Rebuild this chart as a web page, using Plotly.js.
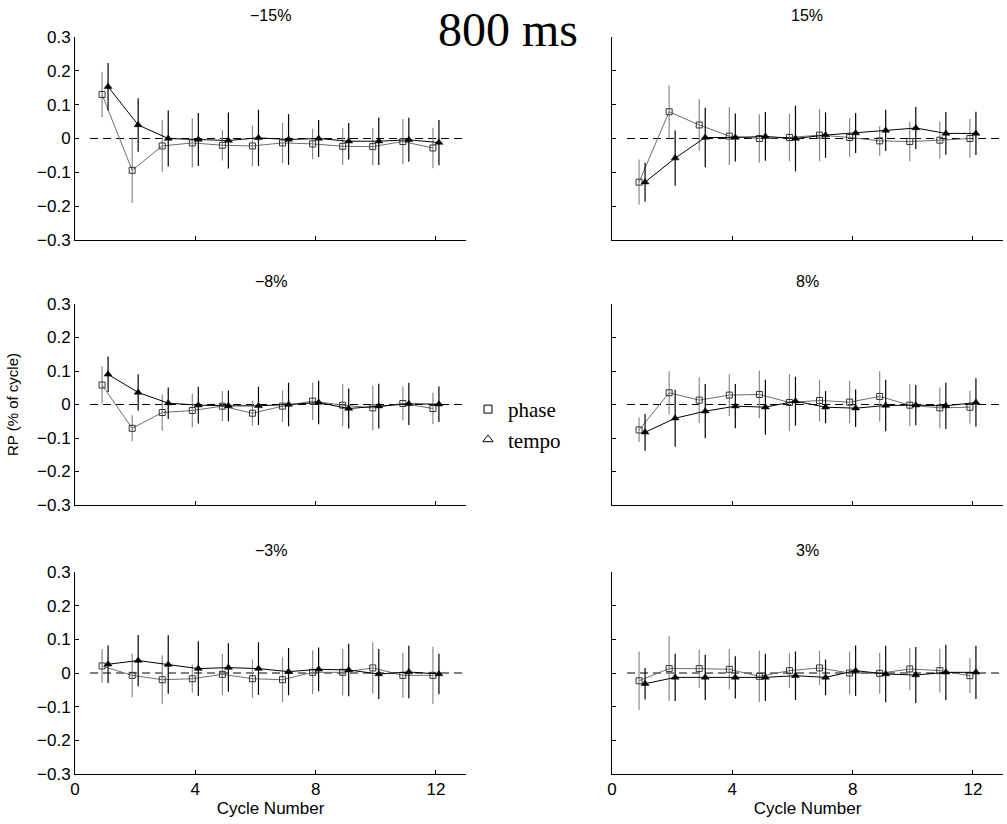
<!DOCTYPE html>
<html>
<head>
<meta charset="utf-8">
<script src="https://cdn.plot.ly/plotly-3.0.1.min.js"></script>
<style>html,body{margin:0;padding:0;background:#fff;}#chart{width:1007px;height:824px;}</style>
</head>
<body>
<div id="chart"></div>
<script>
// ---- data ----
const cycles = [1, 2, 3, 4, 5, 6, 7, 8, 9, 10, 11, 12];
const panelTitles = ['\u221215%', '15%', '\u22128%', '8%', '\u22123%', '3%'];
const seriesNames = ['phase', 'tempo'];
const xTickVals = [0, 4, 8, 12];
const yTickVals = [-0.3, -0.2, -0.1, 0, 0.1, 0.2, 0.3];

const phaseM15 = [0.13, -0.094, -0.022, -0.013, -0.02, -0.022, -0.013, -0.016, -0.023, -0.024, -0.009, -0.028];
const phaseM15Err = [0.067, 0.097, 0.077, 0.073, 0.045, 0.06, 0.06, 0.045, 0.055, 0.055, 0.067, 0.06];
const tempoM15 = [0.153, 0.04, 0, -0.003, -0.006, 0.002, -0.003, 0, -0.008, -0.008, -0.004, -0.012];
const tempoM15Err = [0.07, 0.079, 0.083, 0.078, 0.083, 0.083, 0.075, 0.055, 0.054, 0.07, 0.065, 0.067];

const phaseP15 = [-0.129, 0.079, 0.04, 0.007, 0, 0.003, 0.01, 0.003, -0.007, -0.009, -0.005, 0];
const phaseP15Err = [0.067, 0.078, 0.076, 0.085, 0.072, 0.07, 0.077, 0.057, 0.044, 0.058, 0.055, 0.058];
const tempoP15 = [-0.129, -0.058, 0.003, 0.003, 0.006, 0, 0.01, 0.016, 0.024, 0.031, 0.015, 0.015];
const tempoP15Err = [0.057, 0.082, 0.088, 0.071, 0.072, 0.097, 0.067, 0.059, 0.061, 0.062, 0.063, 0.064];

const phaseM8 = [0.058, -0.071, -0.024, -0.018, -0.005, -0.026, -0.005, 0.01, -0.002, -0.01, 0.003, -0.012];
const phaseM8Err = [0.056, 0.039, 0.054, 0.05, 0.045, 0.037, 0.047, 0.056, 0.063, 0.067, 0.051, 0.047];
const tempoM8 = [0.09, 0.036, 0.004, -0.002, -0.004, -0.004, 0, 0.006, -0.012, -0.005, 0.002, 0.001];
const tempoM8Err = [0.053, 0.054, 0.047, 0.055, 0.046, 0.057, 0.065, 0.065, 0.06, 0.067, 0.063, 0.053];

const phaseP8 = [-0.076, 0.035, 0.013, 0.028, 0.03, 0.006, 0.012, 0.007, 0.024, -0.002, -0.01, -0.008];
const phaseP8Err = [0.037, 0.064, 0.068, 0.062, 0.071, 0.085, 0.062, 0.063, 0.075, 0.063, 0.061, 0.049];
const tempoP8 = [-0.083, -0.041, -0.02, -0.005, -0.008, 0.01, -0.008, -0.011, -0.003, -0.002, -0.004, 0.006];
const tempoP8Err = [0.055, 0.085, 0.081, 0.066, 0.082, 0.073, 0.048, 0.056, 0.077, 0.06, 0.069, 0.072];

const phaseM3 = [0.021, -0.007, -0.02, -0.017, -0.004, -0.017, -0.02, 0.002, 0.002, 0.015, -0.007, -0.007];
const phaseM3Err = [0.05, 0.065, 0.073, 0.042, 0.061, 0.057, 0.066, 0.065, 0.069, 0.076, 0.067, 0.085];
const tempoM3 = [0.026, 0.037, 0.025, 0.013, 0.016, 0.013, 0.004, 0.011, 0.009, -0.003, 0.003, -0.003];
const tempoM3Err = [0.056, 0.076, 0.087, 0.081, 0.072, 0.078, 0.07, 0.065, 0.078, 0.074, 0.078, 0.06];

const phaseP3 = [-0.023, 0.013, 0.013, 0.011, -0.01, 0.007, 0.015, 0, -0.001, 0.012, 0.007, -0.008];
const phaseP3Err = [0.087, 0.096, 0.057, 0.06, 0.076, 0.052, 0.051, 0.064, 0.061, 0.063, 0.065, 0.052];
const tempoP3 = [-0.032, -0.013, -0.013, -0.013, -0.013, -0.008, -0.013, 0.007, -0.003, -0.006, 0.002, 0.002];
const tempoP3Err = [0.047, 0.07, 0.067, 0.063, 0.07, 0.072, 0.053, 0.075, 0.084, 0.083, 0.082, 0.079];

// ---- build ----
const panels = [
  {phase: phaseM15, phaseErr: phaseM15Err, tempo: tempoM15, tempoErr: tempoM15Err},
  {phase: phaseP15, phaseErr: phaseP15Err, tempo: tempoP15, tempoErr: tempoP15Err},
  {phase: phaseM8, phaseErr: phaseM8Err, tempo: tempoM8, tempoErr: tempoM8Err},
  {phase: phaseP8, phaseErr: phaseP8Err, tempo: tempoP8, tempoErr: tempoP8Err},
  {phase: phaseM3, phaseErr: phaseM3Err, tempo: tempoM3, tempoErr: tempoM3Err},
  {phase: phaseP3, phaseErr: phaseP3Err, tempo: tempoP3, tempoErr: tempoP3Err}
];

const W = 1007, H = 824;
const colDom = [[75 / W, 466 / W], [612 / W, 1003 / W]];
const rowPx = [[37, 240], [304, 505], [572, 774]];
const rowDom = rowPx.map(r => [1 - r[1] / H, 1 - r[0] / H]);

const SANS = 'Liberation Sans, Arial, sans-serif';
const SERIF = 'Liberation Serif, Times New Roman, serif';
const OFFSET = 0.1;
const PHASE_COL = '#6e6e6e';

const traces = [];
const layout = {
  width: W, height: H,
  margin: {l: 0, r: 0, t: 0, b: 0},
  paper_bgcolor: '#fff', plot_bgcolor: '#fff',
  font: {family: SANS, size: 16, color: '#000'},
  showlegend: true,
  legend: {
    x: 468 / W, y: 1 - 389 / H, xanchor: 'left', yanchor: 'top',
    font: {family: SERIF, size: 21, color: '#000'},
    bgcolor: 'rgba(0,0,0,0)', itemwidth: 30, tracegroupgap: 0
  },
  shapes: [], annotations: []
};

panels.forEach((p, i) => {
  const row = Math.floor(i / 2), col = i % 2;
  const n = i + 1;
  const xa = n === 1 ? 'x' : 'x' + n;
  const ya = n === 1 ? 'y' : 'y' + n;
  const xKey = n === 1 ? 'xaxis' : 'xaxis' + n;
  const yKey = n === 1 ? 'yaxis' : 'yaxis' + n;

  layout[xKey] = {
    domain: colDom[col], anchor: ya, range: [0, 13],
    tickvals: xTickVals, showticklabels: row === 2,
    ticks: 'inside', ticklen: 4, tickcolor: '#000', tickwidth: 1,
    showline: true, linecolor: '#000', linewidth: 1,
    showgrid: false, zeroline: false, fixedrange: true,
    tickfont: {family: SANS, size: 17, color: '#000'},
    title: row === 2 ? {text: 'Cycle Number', font: {family: SANS, size: 17, color: '#000'}, standoff: 2} : {text: ''}
  };
  layout[yKey] = {
    domain: rowDom[row], anchor: xa, range: [-0.3, 0.3],
    tickvals: yTickVals, showticklabels: col === 0,
    ticks: 'inside', ticklen: 4, tickcolor: '#000', tickwidth: 1,
    showline: true, linecolor: '#000', linewidth: 1,
    showgrid: false, zeroline: false, fixedrange: true,
    tickfont: {family: SANS, size: 17, color: '#000'},
    title: (row === 1 && col === 0) ? {text: 'RP (% of cycle)', font: {family: SANS, size: 15, color: '#000'}, standoff: 14} : {text: ''}
  };

  // dashed zero reference line
  layout.shapes.push({
    type: 'line', xref: xa, yref: ya, x0: 0.5, x1: 13, y0: 0, y1: 0,
    line: {color: '#000', width: 1, dash: '8px,5px'}, layer: 'below'
  });

  // panel title
  layout.annotations.push({
    xref: 'paper', yref: 'paper',
    x: (colDom[col][0] + colDom[col][1]) / 2, y: 1 - (rowPx[row][0] - 22) / H,
    xanchor: 'center', yanchor: 'middle', showarrow: false,
    text: panelTitles[i], font: {family: SANS, size: 16, color: '#000'}
  });

  traces.push({
    type: 'scatter', mode: 'lines+markers', xaxis: xa, yaxis: ya,
    x: cycles.map(c => c - OFFSET), y: p.phase,
    error_y: {type: 'data', array: p.phaseErr, visible: true, color: '#8a8a8a', thickness: 1.2, width: 0},
    line: {color: PHASE_COL, width: 1},
    marker: {symbol: 'square-open', size: 6, color: '#333', line: {width: 1}},
    name: seriesNames[0], showlegend: false, hoverinfo: 'skip'
  });
  traces.push({
    type: 'scatter', mode: 'lines+markers', xaxis: xa, yaxis: ya,
    x: cycles.map(c => c + OFFSET), y: p.tempo,
    error_y: {type: 'data', array: p.tempoErr, visible: true, color: '#000', thickness: 1.2, width: 0},
    line: {color: '#000', width: 1},
    marker: {symbol: 'triangle-up', size: 7, color: '#000', line: {width: 0.5, color: '#000'}},
    name: seriesNames[1], showlegend: false, hoverinfo: 'skip'
  });
});

// legend entries (marker only)
traces.push({
  type: 'scatter', mode: 'markers', x: [null], y: [null], xaxis: 'x', yaxis: 'y',
  name: seriesNames[0], marker: {symbol: 'square-open', size: 8, color: '#000', line: {width: 1}}, showlegend: true
});
traces.push({
  type: 'scatter', mode: 'markers', x: [null], y: [null], xaxis: 'x', yaxis: 'y',
  name: seriesNames[1], marker: {symbol: 'triangle-up-open', size: 9, color: '#000', line: {width: 1}}, showlegend: true
});

// big figure title
layout.annotations.push({
  xref: 'paper', yref: 'paper', x: 508 / W, y: 1 - 29 / H,
  xanchor: 'center', yanchor: 'middle', showarrow: false,
  text: '800 ms', font: {family: SERIF, size: 48, color: '#000'}
});

Plotly.newPlot('chart', traces, layout, {staticPlot: true, displayModeBar: false});
</script>
</body>
</html>
